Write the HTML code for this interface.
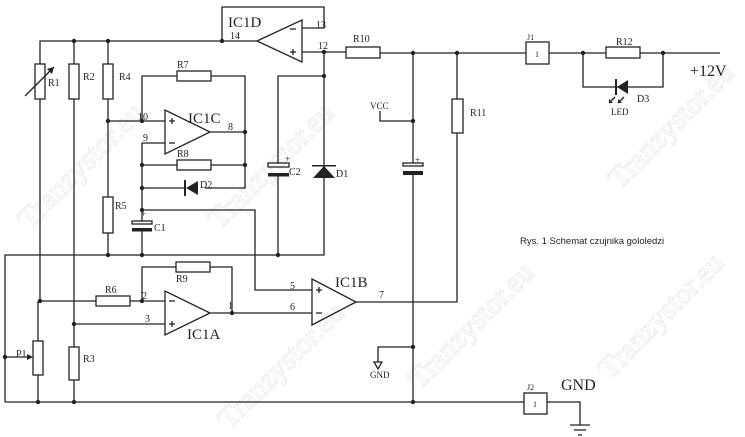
<!DOCTYPE html>
<html><head><meta charset="utf-8"><style>
html,body{margin:0;padding:0;background:#fff;}
svg{display:block;}
text{font-family:"Liberation Serif",serif;fill:#222;}
.s{font-family:"Liberation Sans",sans-serif;}
</style></head><body>
<svg width="745" height="437" viewBox="0 0 745 437" xmlns="http://www.w3.org/2000/svg">
<g font-size="30" font-family="Liberation Sans,sans-serif">
<text x="30" y="230" transform="rotate(-45 30 230)" style="fill:none;stroke:#efefef;stroke-width:1.2">Tranzystor.eu</text>
<text x="220" y="230" transform="rotate(-45 220 230)" style="fill:none;stroke:#efefef;stroke-width:1.2">Tranzystor.eu</text>
<text x="230" y="430" transform="rotate(-45 230 430)" style="fill:none;stroke:#efefef;stroke-width:1.2">Tranzystor.eu</text>
<text x="420" y="390" transform="rotate(-45 420 390)" style="fill:none;stroke:#efefef;stroke-width:1.2">Tranzystor.eu</text>
<text x="620" y="190" transform="rotate(-45 620 190)" style="fill:none;stroke:#efefef;stroke-width:1.2">Tranzystor.eu</text>
<text x="610" y="380" transform="rotate(-45 610 380)" style="fill:none;stroke:#efefef;stroke-width:1.2">Tranzystor.eu</text>
</g>
<g stroke="#222" stroke-width="1.3" fill="none">
<polyline points="40,64 40,41 257,41"/>
<line x1="74" y1="41" x2="74" y2="64"/>
<line x1="108" y1="41" x2="108" y2="64"/>
<polyline points="222,41 222,7 324,7 324,28 302,28"/>
<polygon points="257,41 302,20 302,62"/>
<polyline points="302,52 346,52"/>
<line x1="380" y1="53" x2="526" y2="53"/>
<line x1="549" y1="53" x2="606" y2="53"/>
<line x1="640" y1="53" x2="720" y2="53"/>
<polyline points="583,53 583,87 663,87 663,53"/>
<rect x="35" y="64" width="10" height="35"/>
<rect x="69" y="64" width="10" height="35"/>
<rect x="103" y="64" width="10" height="35"/>
<rect x="346" y="47" width="34" height="11"/>
<rect x="606" y="47" width="34" height="11"/>
<rect x="177" y="71" width="34" height="10"/>
<rect x="177" y="160" width="34" height="10"/>
<rect x="103" y="197" width="10" height="36"/>
<rect x="452" y="99" width="11" height="34"/>
<rect x="96" y="296" width="34" height="10"/>
<rect x="176" y="262" width="34" height="10"/>
<rect x="69" y="347" width="10" height="33"/>
<rect x="33" y="341" width="10" height="34"/>
<line x1="25" y1="96" x2="54" y2="67"/>
<line x1="40" y1="99" x2="40" y2="301"/>
<polyline points="38,301 38,341"/>
<line x1="38" y1="375" x2="38" y2="402"/>
<line x1="74" y1="99" x2="74" y2="347"/>
<line x1="74" y1="380" x2="74" y2="402"/>
<polyline points="108,99 108,197"/>
<line x1="108" y1="233" x2="108" y2="255"/>
<polyline points="108,121 165,121"/>
<polygon points="165,110 165,154 210,132"/>
<polyline points="142,121 142,76 177,76"/>
<polyline points="211,76 245,76 245,188 205,188"/>
<line x1="210" y1="132" x2="245" y2="132"/>
<polyline points="165,143 142,143 142,210 255,210 255,290 312,290"/>
<line x1="142" y1="165" x2="177" y2="165"/>
<line x1="211" y1="165" x2="245" y2="165"/>
<line x1="142" y1="188" x2="185" y2="188"/>
<line x1="142" y1="210" x2="142" y2="221"/>
<rect x="132" y="221" width="20" height="3"/>
<line x1="142" y1="231" x2="142" y2="255"/>
<polyline points="5,402 5,255 324,255 324,52"/>
<polyline points="278,255 278,176"/>
<polyline points="278,163 278,76 324,76"/>
<rect x="268" y="163" width="21" height="4"/>
<line x1="40" y1="301" x2="96" y2="301"/>
<line x1="130" y1="301" x2="165" y2="301"/>
<polyline points="142,301 142,267 176,267"/>
<polyline points="210,267 232,267 232,313"/>
<line x1="74" y1="324" x2="165" y2="324"/>
<polygon points="165,291 165,335 210,313"/>
<line x1="210" y1="313" x2="312" y2="313"/>
<polygon points="312,279 312,325 356,302"/>
<polyline points="356,302 457,302 457,133"/>
<line x1="457" y1="99" x2="457" y2="53"/>
<line x1="413" y1="53" x2="413" y2="163"/>
<rect x="403" y="163" width="20" height="3"/>
<line x1="413" y1="175" x2="413" y2="402"/>
<polyline points="413,121 380,121 380,111"/>
<polyline points="413,347 378,347 378,362"/>
<polygon points="374,362 382,362 378,369"/>
<line x1="5" y1="402" x2="524" y2="402"/>
<polyline points="547,402 580,402 580,425"/>
<line x1="570" y1="425" x2="590" y2="425"/>
<line x1="574" y1="430" x2="586" y2="430"/>
<line x1="578" y1="435" x2="582" y2="435"/>
<rect x="524" y="393" width="23" height="21"/>
<rect x="526" y="42" width="23" height="22"/>
<line x1="5" y1="357" x2="30" y2="357"/>
<line x1="615" y1="97" x2="609" y2="103"/>
<line x1="624" y1="97" x2="618" y2="103"/>
<!-- op-amp signs -->
<line x1="290" y1="29" x2="296" y2="29"/>
<line x1="290" y1="52" x2="296" y2="52"/><line x1="293" y1="49" x2="293" y2="55"/>
<line x1="169" y1="121" x2="175" y2="121"/><line x1="172" y1="118" x2="172" y2="124"/>
<line x1="169" y1="143" x2="175" y2="143"/>
<line x1="169" y1="301" x2="175" y2="301"/>
<line x1="169" y1="324" x2="175" y2="324"/><line x1="172" y1="321" x2="172" y2="327"/>
<line x1="316" y1="290" x2="322" y2="290"/><line x1="319" y1="287" x2="319" y2="293"/>
<line x1="316" y1="313" x2="322" y2="313"/>
</g>
<g fill="#222" stroke="none">
<polygon points="54,67 47,69 52,74"/>
<polygon points="33,357 27,354 27,360"/>
<rect x="268" y="173" width="21" height="3.5"/>
<rect x="403" y="171" width="20" height="4"/>
<rect x="132" y="228" width="20" height="3.5"/>
<polygon points="324,166 313,178 335,178"/>
<rect x="312" y="165" width="24" height="1.5"/>
<polygon points="186,188 198,181 198,195"/>
<rect x="184" y="180" width="2" height="16"/>
<polygon points="617,87 628,80 628,94"/>
<rect x="615" y="79" width="2" height="16"/>
<polygon points="609,103 609,99 613,103"/>
<polygon points="618,103 618,99 622,103"/>
<g>
<circle cx="74" cy="41" r="2.2"/><circle cx="108" cy="41" r="2.2"/><circle cx="222" cy="41" r="2.2"/>
<circle cx="324" cy="52" r="2.2"/><circle cx="324" cy="76" r="2.2"/><circle cx="108" cy="121" r="2.2"/>
<circle cx="142" cy="121" r="2.2"/><circle cx="245" cy="132" r="2.2"/><circle cx="142" cy="165" r="2.2"/>
<circle cx="245" cy="165" r="2.2"/><circle cx="142" cy="188" r="2.2"/><circle cx="142" cy="210" r="2.2"/>
<circle cx="108" cy="255" r="2.2"/><circle cx="142" cy="255" r="2.2"/><circle cx="278" cy="255" r="2.2"/>
<circle cx="40" cy="301" r="2.2"/><circle cx="142" cy="301" r="2.2"/><circle cx="74" cy="324" r="2.2"/>
<circle cx="232" cy="313" r="2.2"/><circle cx="5" cy="357" r="2.2"/><circle cx="38" cy="402" r="2.2"/>
<circle cx="74" cy="402" r="2.2"/><circle cx="413" cy="53" r="2.2"/><circle cx="457" cy="53" r="2.2"/>
<circle cx="413" cy="121" r="2.2"/><circle cx="413" cy="347" r="2.2"/><circle cx="413" cy="402" r="2.2"/>
<circle cx="583" cy="53" r="2.2"/><circle cx="663" cy="53" r="2.2"/>
</g>
</g>
<g font-size="10">
<text x="228" y="27" font-size="15">IC1D</text>
<text x="230" y="39">14</text><text x="316" y="28">13</text><text x="318" y="49">12</text>
<text x="188" y="123" font-size="15">IC1C</text>
<text x="138" y="120">10</text><text x="143" y="141">9</text><text x="228" y="130">8</text>
<text x="177" y="68">R7</text><text x="177" y="157">R8</text><text x="200" y="188">D2</text>
<text x="115" y="209">R5</text><text x="154" y="231">C1</text><text x="289" y="175">C2</text>
<text x="336" y="177">D1</text><text x="48" y="86">R1</text><text x="83" y="80">R2</text><text x="119" y="80">R4</text>
<text x="353" y="42">R10</text><text x="470" y="116">R11</text><text x="616" y="45">R12</text>
<text x="527" y="40" font-size="8">J1</text><text x="535" y="57" font-size="8">1</text>
<text x="527" y="390" font-size="8">J2</text><text x="533" y="407" font-size="8">1</text>
<text x="105" y="293">R6</text><text x="176" y="282">R9</text>
<text x="142" y="299">2</text><text x="145" y="322">3</text><text x="228" y="309">1</text>
<text x="290" y="289">5</text><text x="290" y="310">6</text><text x="379" y="298">7</text>
<text x="335" y="287" font-size="15">IC1B</text><text x="187" y="339" font-size="15">IC1A</text>
<text x="16" y="357">P1</text><text x="83" y="362">R3</text>
<text x="370" y="109" font-size="9">VCC</text><text x="370" y="378" font-size="9">GND</text>
<text x="141" y="217" font-size="9">+</text><text x="285" y="162" font-size="9">+</text><text x="415" y="163" font-size="9">+</text>
<text x="637" y="102">D3</text><text x="611" y="115" font-size="9">LED</text>
<text x="690" y="76" font-size="16">+12V</text>
<text x="561" y="390" font-size="16">GND</text>
<text x="520" y="244" font-size="9.5" class="s" fill="#333">Rys. 1 Schemat czujnika gololedzi</text>
</g>
</svg>
</body></html>
